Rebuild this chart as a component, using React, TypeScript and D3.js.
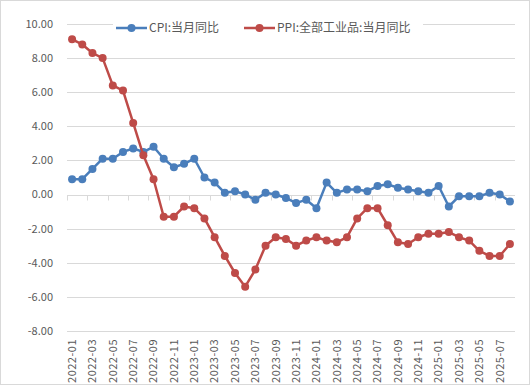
import { useRef, useEffect } from 'react';
import * as d3 from 'd3';

// months 2022-01 .. 2025-08
const months: string[] = [
  '2022-01', '2022-02', '2022-03', '2022-04', '2022-05', '2022-06', '2022-07', '2022-08', '2022-09', '2022-10', '2022-11', '2022-12',
  '2023-01', '2023-02', '2023-03', '2023-04', '2023-05', '2023-06', '2023-07', '2023-08', '2023-09', '2023-10', '2023-11', '2023-12',
  '2024-01', '2024-02', '2024-03', '2024-04', '2024-05', '2024-06', '2024-07', '2024-08', '2024-09', '2024-10', '2024-11', '2024-12',
  '2025-01', '2025-02', '2025-03', '2025-04', '2025-05', '2025-06', '2025-07', '2025-08',
];

const cpi: number[] = [
  0.9, 0.9, 1.5, 2.1, 2.1, 2.5, 2.7, 2.5, 2.8, 2.1, 1.6, 1.8,
  2.1, 1.0, 0.7, 0.1, 0.2, 0.0, -0.3, 0.1, 0.0, -0.2, -0.5, -0.3,
  -0.8, 0.7, 0.1, 0.3, 0.3, 0.2, 0.5, 0.6, 0.4, 0.3, 0.2, 0.1,
  0.5, -0.7, -0.1, -0.1, -0.1, 0.1, 0.0, -0.4,
];

const ppi: number[] = [
  9.1, 8.8, 8.3, 8.0, 6.4, 6.1, 4.2, 2.3, 0.9, -1.3, -1.3, -0.7,
  -0.8, -1.4, -2.5, -3.6, -4.6, -5.4, -4.4, -3.0, -2.5, -2.6, -3.0, -2.7,
  -2.5, -2.7, -2.8, -2.5, -1.4, -0.8, -0.8, -1.8, -2.8, -2.9, -2.5, -2.3,
  -2.3, -2.2, -2.5, -2.7, -3.3, -3.6, -3.6, -2.9,
];

const yTicks: number[] = [10, 8, 6, 4, 2, 0, -2, -4, -6, -8];

const seriesNames = ['CPI:当月同比', 'PPI:全部工业品:当月同比'];
const colors = ['#4a7ebb', '#be4b48'];

export default function App() {
  const svgRef = useRef<SVGSVGElement>(null);
  const width = 531;
  const height = 387;

  useEffect(() => {
    if (!svgRef.current) return;
    const svg = d3.select(svgRef.current);
    svg.selectAll('*').remove();

    const font = '"Noto Sans CJK SC", "Noto Sans", sans-serif';
    const textColor = '#595959';

    // outer chart border
    svg.append('rect')
      .attr('x', 0.5).attr('y', 0.5)
      .attr('width', 529).attr('height', 384)
      .attr('fill', '#fff')
      .attr('stroke', '#d9d9d9');

    const x = d3.scaleBand<string>()
      .domain(months)
      .range([67, 515]);

    const y = d3.scaleLinear()
      .domain([-8, 10])
      .range([331, 24]);

    // grid lines
    svg.append('g')
      .selectAll('line')
      .data(yTicks.filter(t => t !== 0))
      .enter().append('line')
      .attr('x1', 67).attr('x2', 515)
      .attr('y1', d => Math.round(y(d)) + 0.5)
      .attr('y2', d => Math.round(y(d)) + 0.5)
      .attr('stroke', '#d9d9d9')
      .attr('stroke-width', 1);

    // y labels
    svg.append('g')
      .selectAll('text')
      .data(yTicks)
      .enter().append('text')
      .attr('x', 53)
      .attr('y', d => y(d))
      .attr('dy', '0.35em')
      .attr('text-anchor', 'end')
      .style('font-family', font)
      .style('font-size', '11px')
      .style('fill', textColor)
      .text(d => d.toFixed(2));

    // zero axis with tick marks between categories
    const y0 = Math.round(y(0)) + 0.5;
    svg.append('line')
      .attr('x1', 67).attr('x2', 515)
      .attr('y1', y0).attr('y2', y0)
      .attr('stroke', '#d9d9d9');

    const boundaries = months.map((m, i) => i).filter(i => i % 2 === 0);
    svg.append('g')
      .selectAll('line')
      .data(boundaries)
      .enter().append('line')
      .attr('x1', i => Math.round(x(months[i]) || 0) + 0.5)
      .attr('x2', i => Math.round(x(months[i]) || 0) + 0.5)
      .attr('y1', y0)
      .attr('y2', y0 + 5)
      .attr('stroke', '#d9d9d9');

    // x labels (every other month)
    svg.append('g')
      .selectAll('text')
      .data(months.filter((m, i) => i % 2 === 0))
      .enter().append('text')
      .attr('transform', d => `translate(${(x(d) || 0) + x.bandwidth() / 2},339) rotate(-90)`)
      .attr('dy', '0.35em')
      .attr('text-anchor', 'end')
      .style('font-family', font)
      .style('font-size', '11px')
      .style('letter-spacing', '0.5px')
      .style('fill', textColor)
      .text(d => d);

    const line = d3.line<number>()
      .x((d, i) => (x(months[i]) || 0) + x.bandwidth() / 2)
      .y(d => y(d));

    [cpi, ppi].forEach((values, s) => {
      const g = svg.append('g');
      g.append('path')
        .datum(values)
        .attr('fill', 'none')
        .attr('stroke', colors[s])
        .attr('stroke-width', 2.5)
        .attr('stroke-linejoin', 'round')
        .attr('d', line);
      g.selectAll('circle')
        .data(values)
        .enter().append('circle')
        .attr('cx', (d, i) => (x(months[i]) || 0) + x.bandwidth() / 2)
        .attr('cy', d => y(d))
        .attr('r', 4)
        .attr('fill', colors[s]);
    });

    // legend with white background over the top grid line
    const legend = svg.append('g');
    legend.append('rect')
      .attr('x', 113).attr('y', 19)
      .attr('width', 310).attr('height', 18)
      .attr('fill', '#fff');
    const legendX = [116, 244];
    seriesNames.forEach((name, s) => {
      const lx = legendX[s];
      legend.append('line')
        .attr('x1', lx).attr('x2', lx + 31)
        .attr('y1', 28).attr('y2', 28)
        .attr('stroke', colors[s])
        .attr('stroke-width', 2.5);
      legend.append('circle')
        .attr('cx', lx + 15.5).attr('cy', 28)
        .attr('r', 4)
        .attr('fill', colors[s]);
      legend.append('text')
        .attr('x', lx + 33).attr('y', 28)
        .attr('dy', '0.35em')
        .style('font-family', font)
        .style('font-size', '12px')
        .style('fill', textColor)
        .text(name);
    });
  }, []);

  return (
    <div style={{ position: 'absolute', left: 0, top: 0 }}>
      <svg ref={svgRef} width={width} height={height} style={{ display: 'block' }} />
    </div>
  );
}
